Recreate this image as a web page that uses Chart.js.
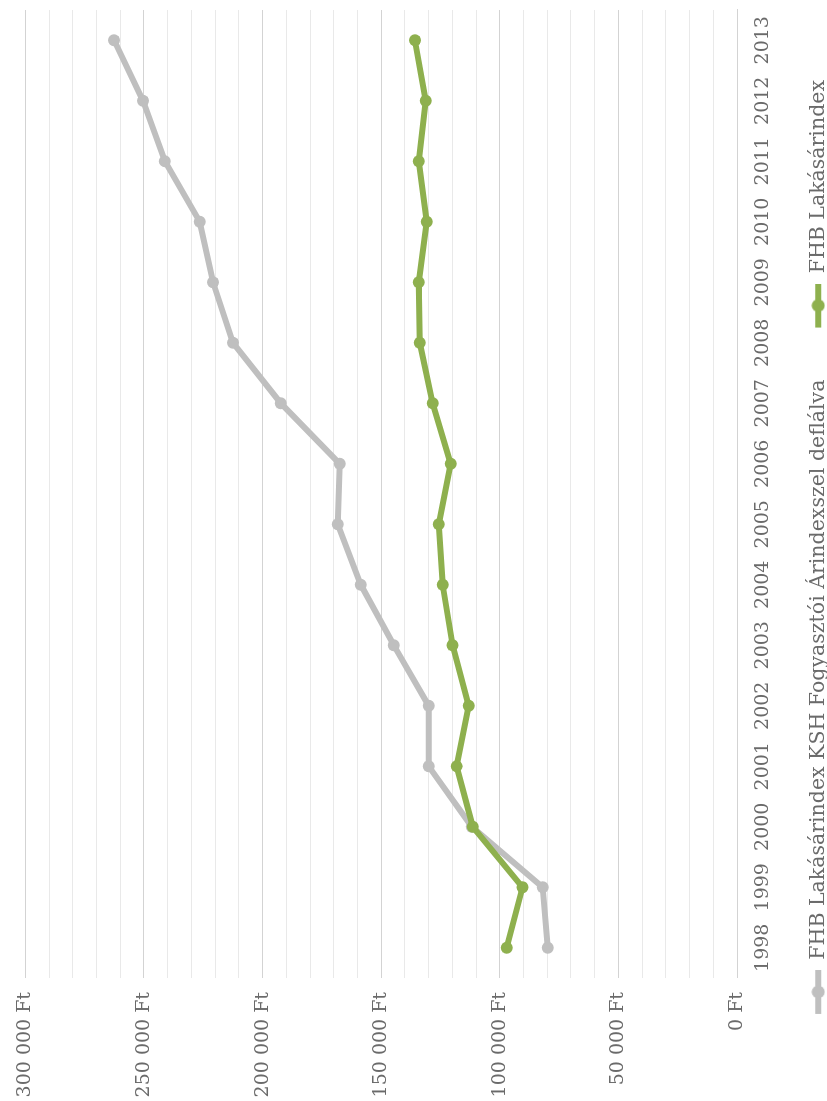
<!DOCTYPE html>
<html lang="hu">
<head>
<meta charset="UTF-8">
<title>FHB Lakásárindex</title>
<script src="https://cdn.jsdelivr.net/npm/chart.js"></script>
<style>
    html, body {
        margin: 0;
        padding: 0;
        background: #ffffff;
        overflow: hidden;
        width: 827px;
        height: 1101px;
    }
    /* the chart is drawn upright, then turned a quarter to the left like the scan */
    #wrap {
        position: absolute;
        left: 0;
        top: 0;
        width: 1101px;
        height: 827px;
        transform-origin: 0 0;
        transform: translate(0, 1101px) rotate(-90deg);
    }
</style>
</head>
<body>
<div id="wrap">
    <canvas id="chart" width="1101" height="827"></canvas>
</div>

<script>
    const years = ['1998', '1999', '2000', '2001', '2002', '2003', '2004', '2005',
                   '2006', '2007', '2008', '2009', '2010', '2011', '2012', '2013'];
    const deflatedIndex = [79800, 81900, 111800, 130000, 130000, 144700, 158600, 168300,
                           167500, 192300, 212500, 220900, 226500, 241200, 250400, 262600];
    const priceIndex = [97100, 90400, 111400, 118200, 113100, 119900, 124100, 125700,
                        120700, 128300, 133700, 134200, 130800, 134200, 131200, 135800];
    const seriesNames = ['FHB Lakásárindex KSH Fogyasztói Árindexszel deflálva', 'FHB Lakásárindex'];
    const seriesColors = ['#bfbfbf', '#8eb04e'];

    const textColor = '#6a6a6a';
    const fontFamily = '"DejaVu Serif", serif';

    // legend marker: short line with a dot; blank room on the left gives the gap between items
    function marker(color) {
        const c = document.createElement('canvas');
        c.width = 61;
        c.height = 14;
        const g = c.getContext('2d');
        g.strokeStyle = color;
        g.lineWidth = 6;
        g.beginPath();
        g.moveTo(17, 7);
        g.lineTo(61, 7);
        g.stroke();
        g.fillStyle = color;
        g.beginPath();
        g.arc(39, 7, 6.5, 0, Math.PI * 2);
        g.fill();
        return c;
    }

    function ftLabel(v) {
        return String(v).replace(/\B(?=(\d{3})+(?!\d))/g, ' ') + ' Ft';
    }

    const ctx = document.getElementById('chart').getContext('2d');
    const chart = new Chart(ctx, {
        type: 'line',
        data: {
            labels: years,
            datasets: [{
                label: seriesNames[0],
                data: deflatedIndex,
                borderColor: seriesColors[0],
                backgroundColor: seriesColors[0],
                pointBackgroundColor: seriesColors[0],
                borderWidth: 6,
                pointRadius: 6,
                pointBorderWidth: 0,
                tension: 0,
                order: 2
            }, {
                label: seriesNames[1],
                data: priceIndex,
                borderColor: seriesColors[1],
                backgroundColor: seriesColors[1],
                pointBackgroundColor: seriesColors[1],
                borderWidth: 6,
                pointRadius: 6,
                pointBorderWidth: 0,
                tension: 0,
                order: 1
            }]
        },
        options: {
            responsive: false,
            animation: false,
            layout: {
                padding: { top: 24, right: 10, left: 0, bottom: 0 }
            },
            scales: {
                x: {
                    offset: true,
                    grid: { display: false, drawTicks: false },
                    border: { display: true, color: '#d3d3d3', width: 1 },
                    ticks: {
                        color: textColor,
                        font: { family: fontFamily, size: 19 },
                        padding: 15,
                        maxRotation: 0,
                        autoSkip: false
                    },
                    afterFit: function (s) { s.height = 36; }
                },
                y: {
                    min: 0,
                    max: 300000,
                    grid: {
                        drawTicks: false,
                        color: function (c) {
                            return c.tick && c.tick.value % 50000 === 0 ? '#d3d3d3' : '#e9e9e9';
                        }
                    },
                    border: { display: false },
                    ticks: {
                        stepSize: 10000,
                        autoSkip: false,
                        color: textColor,
                        font: { family: fontFamily, size: 19 },
                        padding: 14,
                        callback: function (v) {
                            return v % 50000 === 0 ? ftLabel(v) : '';
                        }
                    },
                    afterFit: function (s) { s.width = 123; }
                }
            },
            plugins: {
                tooltip: { enabled: false },
                legend: {
                    position: 'bottom',
                    maxHeight: 54,
                    labels: {
                        color: textColor,
                        font: { family: fontFamily, size: 20.5 },
                        usePointStyle: true,
                        pointStyleWidth: 61,
                        boxHeight: 14,
                        padding: 35,
                        generateLabels: function (ch) {
                            return ch.data.datasets.map(function (ds, i) {
                                return {
                                    text: ds.label,
                                    fillStyle: ds.borderColor,
                                    strokeStyle: ds.borderColor,
                                    lineWidth: 0,
                                    pointStyle: marker(ds.borderColor),
                                    fontColor: textColor,
                                    hidden: false,
                                    datasetIndex: i
                                };
                            });
                        }
                    }
                }
            }
        }
    });
</script>
</body>
</html>
